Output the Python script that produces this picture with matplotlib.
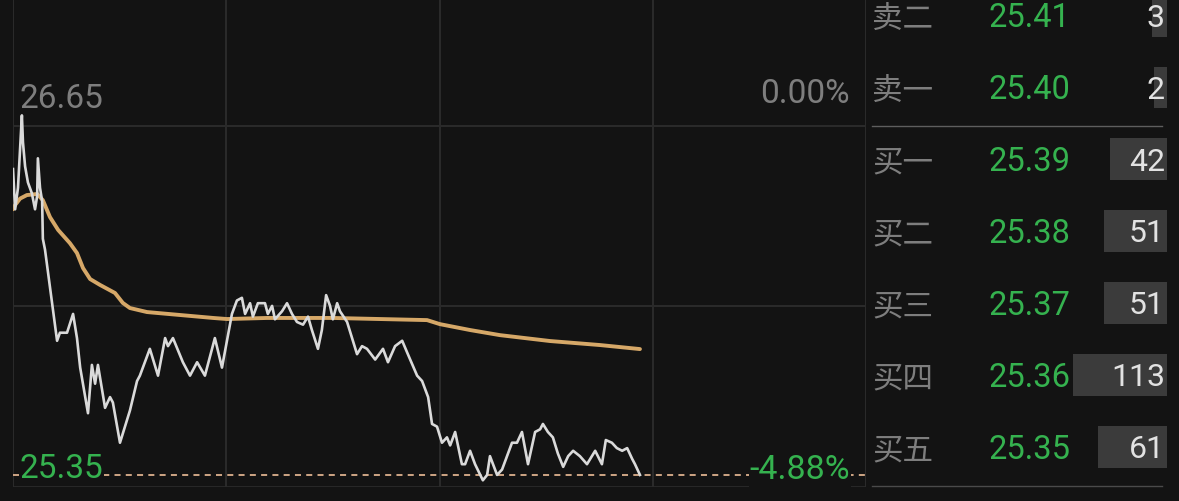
import numpy as np
import matplotlib
matplotlib.use("Agg")
import matplotlib.pyplot as plt

# ---------------- data ----------------
minutes = [0, 0.6, 1.4, 2.5, 2.8, 3.4, 4.2, 5.3, 6.2, 6.8,
           7.0, 7.6, 8.2, 8.4, 9.0, 12.4, 13.2, 15.2, 16.9, 18.0,
           18.9, 21.1, 22.2, 23.1, 23.9, 25.9, 27.3, 28.1, 30.1, 32.9,
           34.9, 35.7, 38.5, 40.8, 42.8, 43.6, 45.0, 47.8, 49.8, 51.8,
           54.0, 56.8, 58.8, 60.2, 61.6, 63.0, 64.4, 65.3, 66.7, 67.5,
           68.9, 70.9, 71.7, 72.9, 73.7, 75.7, 77.1, 78.5, 79.9, 81.6,
           83.0, 84.1, 85.8, 86.9, 88.1, 89.2, 90.0, 91.2, 92.0, 94.0,
           96.8, 98.2, 99.6, 101.9, 104.1, 105.5, 107.5, 109.5, 111.1, 113.7,
           115.1, 116.8, 117.9, 119.3, 120.7, 122.1, 123.0, 124.4, 126.3, 127.2,
           128.6, 130.0, 132.2, 133.4, 134.2, 136.2, 137.6, 140.4, 141.8, 143.2,
           144.9, 146.9, 148.3, 149.1, 150.5, 151.9, 153.3, 154.8, 156.2, 157.6,
           159.5, 161.5, 163.8, 165.7, 166.8, 168.5, 169.9, 171.4, 172.8, 174.2,
           175.0, 176.4]
prices = [26.49, 26.34, 26.42, 26.69, 26.59, 26.50, 26.44, 26.40, 26.34, 26.39,
          26.53, 26.42, 26.37, 26.23, 26.19, 25.85, 25.88, 25.88, 25.95, 25.86,
          25.75, 25.58, 25.76, 25.69, 25.76, 25.60, 25.64, 25.62, 25.47, 25.59,
          25.70, 25.72, 25.82, 25.72, 25.86, 25.83, 25.86, 25.77, 25.72, 25.77,
          25.72, 25.86, 25.75, 25.85, 25.95, 26.00, 26.01, 25.95, 25.99, 25.94,
          25.99, 25.99, 25.95, 25.98, 25.93, 25.96, 25.99, 25.95, 25.92, 25.91,
          25.94, 25.89, 25.82, 25.89, 26.02, 25.98, 25.93, 25.99, 25.96, 25.92,
          25.80, 25.83, 25.82, 25.78, 25.82, 25.77, 25.83, 25.85, 25.80, 25.72,
          25.70, 25.64, 25.54, 25.53, 25.47, 25.49, 25.46, 25.51, 25.39, 25.39,
          25.44, 25.39, 25.33, 25.35, 25.42, 25.35, 25.37, 25.47, 25.47, 25.51,
          25.39, 25.51, 25.52, 25.54, 25.51, 25.49, 25.43, 25.38, 25.42, 25.44,
          25.42, 25.39, 25.44, 25.39, 25.48, 25.47, 25.45, 25.44, 25.45, 25.41,
          25.39, 25.35]

avg_minutes = [0, 0.6, 2.0, 3.9, 6.8, 8.4, 10.4, 12.7, 16.0, 18.0,
               19.7, 21.7, 24.5, 28.7, 30.9, 32.9, 37.7, 47.0, 56.3, 60.2,
               71.5, 90.0, 116.5, 120.1, 128.6, 137.0, 151.1, 165.2, 176.4]
avg_prices = [26.34, 26.356, 26.38, 26.393, 26.397, 26.374, 26.311, 26.263, 26.214, 26.177,
              26.121, 26.080, 26.058, 26.028, 25.991, 25.972, 25.957, 25.946, 25.935, 25.931,
              25.935, 25.935, 25.927, 25.912, 25.890, 25.871, 25.849, 25.834, 25.819]

prev_close = 26.65
low_price = 25.35
top_label = "26.65"
low_label = "25.35"
top_pct = "0.00%"
low_pct = "-4.88%"
time_grid = [0, 60, 120, 180, 240]
price_grid = [26.65, 25.98]

book_labels = ["卖二", "卖一", "买一", "买二", "买三", "买四", "买五"]
book_prices = ["25.41", "25.40", "25.39", "25.38", "25.37", "25.36", "25.35"]
book_volumes = [3, 2, 42, 51, 51, 113, 61]

# ---------------- style ----------------
BG = "#131313"
GRID = "#2a2a2a"
GREEN = "#35b24f"
GRAY_TXT = "#7e7e7e"
NUM_FONT = ["Roboto", "DejaVu Sans"]
CJK_FONT = ["Noto Sans CJK SC", "DejaVu Sans"]

W, H = 1179, 501
fig = plt.figure(figsize=(W / 100, H / 100), dpi=100, facecolor=BG)

# ---------------- price chart ----------------
ax = fig.add_axes([13 / W, 14 / H, 853 / W, 487 / H])
ax.set_facecolor(BG)
ax.set_xlim(0, 240)
ax.set_ylim(25.305, 27.12)
for s in ax.spines.values():
    s.set_visible(False)
ax.set_xticks([])
ax.set_yticks([])

for t in time_grid:
    ax.axvline(t, color=GRID, lw=1.5, zorder=1)
for p in price_grid:
    ax.axhline(p, color=GRID, lw=1.5, zorder=1)
ax.axhline(25.305, color=GRID, lw=2.0, zorder=1)

ax.axhline(low_price, color="#cfa585", lw=1.4, ls=(0, (3.1, 2.7)), zorder=2)

ax.plot(avg_minutes, avg_prices, color="#d6a868", lw=2.8, zorder=3,
        solid_joinstyle="round", solid_capstyle="round")
ax.plot(minutes, prices, color="#dadada", lw=1.9, zorder=4,
        solid_joinstyle="round")

bb = dict(facecolor=BG, edgecolor="none", pad=0.5)
ax.annotate(top_label, (0, prev_close), xytext=(4.5, 13), textcoords="offset points",
            ha="left", va="baseline", color=GRAY_TXT, fontsize=24, family=NUM_FONT, zorder=6)
ax.annotate(top_pct, (240, prev_close), xytext=(-11.5, 16.5), textcoords="offset points",
            ha="right", va="baseline", color=GRAY_TXT, fontsize=24, family=NUM_FONT, zorder=6)
ax.annotate(low_label, (0, low_price), xytext=(5, -2.3), textcoords="offset points",
            ha="left", va="baseline", color=GREEN, fontsize=24, family=NUM_FONT,
            bbox=bb, zorder=6)
ax.annotate(low_pct, (240, low_price), xytext=(-11.5, -3), textcoords="offset points",
            ha="right", va="baseline", color=GREEN, fontsize=24.5, family=NUM_FONT,
            bbox=bb, zorder=6)

# ---------------- order book ----------------
bx = fig.add_axes([866 / W, 0, 313 / W, 1])
bx.set_facecolor("none")
bx.set_xlim(0, 313)
bx.set_ylim(6.751, -0.217)
bx.axis("off")

rows = np.arange(len(book_labels))
vol = np.array(book_volumes, dtype=float)
widths = 8.85 * np.sqrt(vol)
bx.barh(rows, widths, left=301 - widths, height=0.584, color="#3b3b3b", zorder=1)

for r, lab, pr, v in zip(rows, book_labels, book_prices, book_volumes):
    bx.text(6, r + 0.167, lab, ha="left", va="baseline", color=GRAY_TXT,
            fontsize=22, family=CJK_FONT, zorder=3)
    bx.text(122, r + 0.165, pr, ha="left", va="baseline", color=GREEN,
            fontsize=23.5, family=NUM_FONT, zorder=3)
    bx.text(299, r + 0.155, str(v), ha="right", va="baseline", color="#e2e2e2",
            fontsize=23, family=NUM_FONT, zorder=3)

bx.plot([6, 296], [1.535, 1.535], color="#5e5e5e", lw=1.0, zorder=2)
bx.plot([6, 296], [6.543, 6.543], color="#4a4a4a", lw=1.0, zorder=2)

fig.savefig("out.png", dpi=100, facecolor=BG)
